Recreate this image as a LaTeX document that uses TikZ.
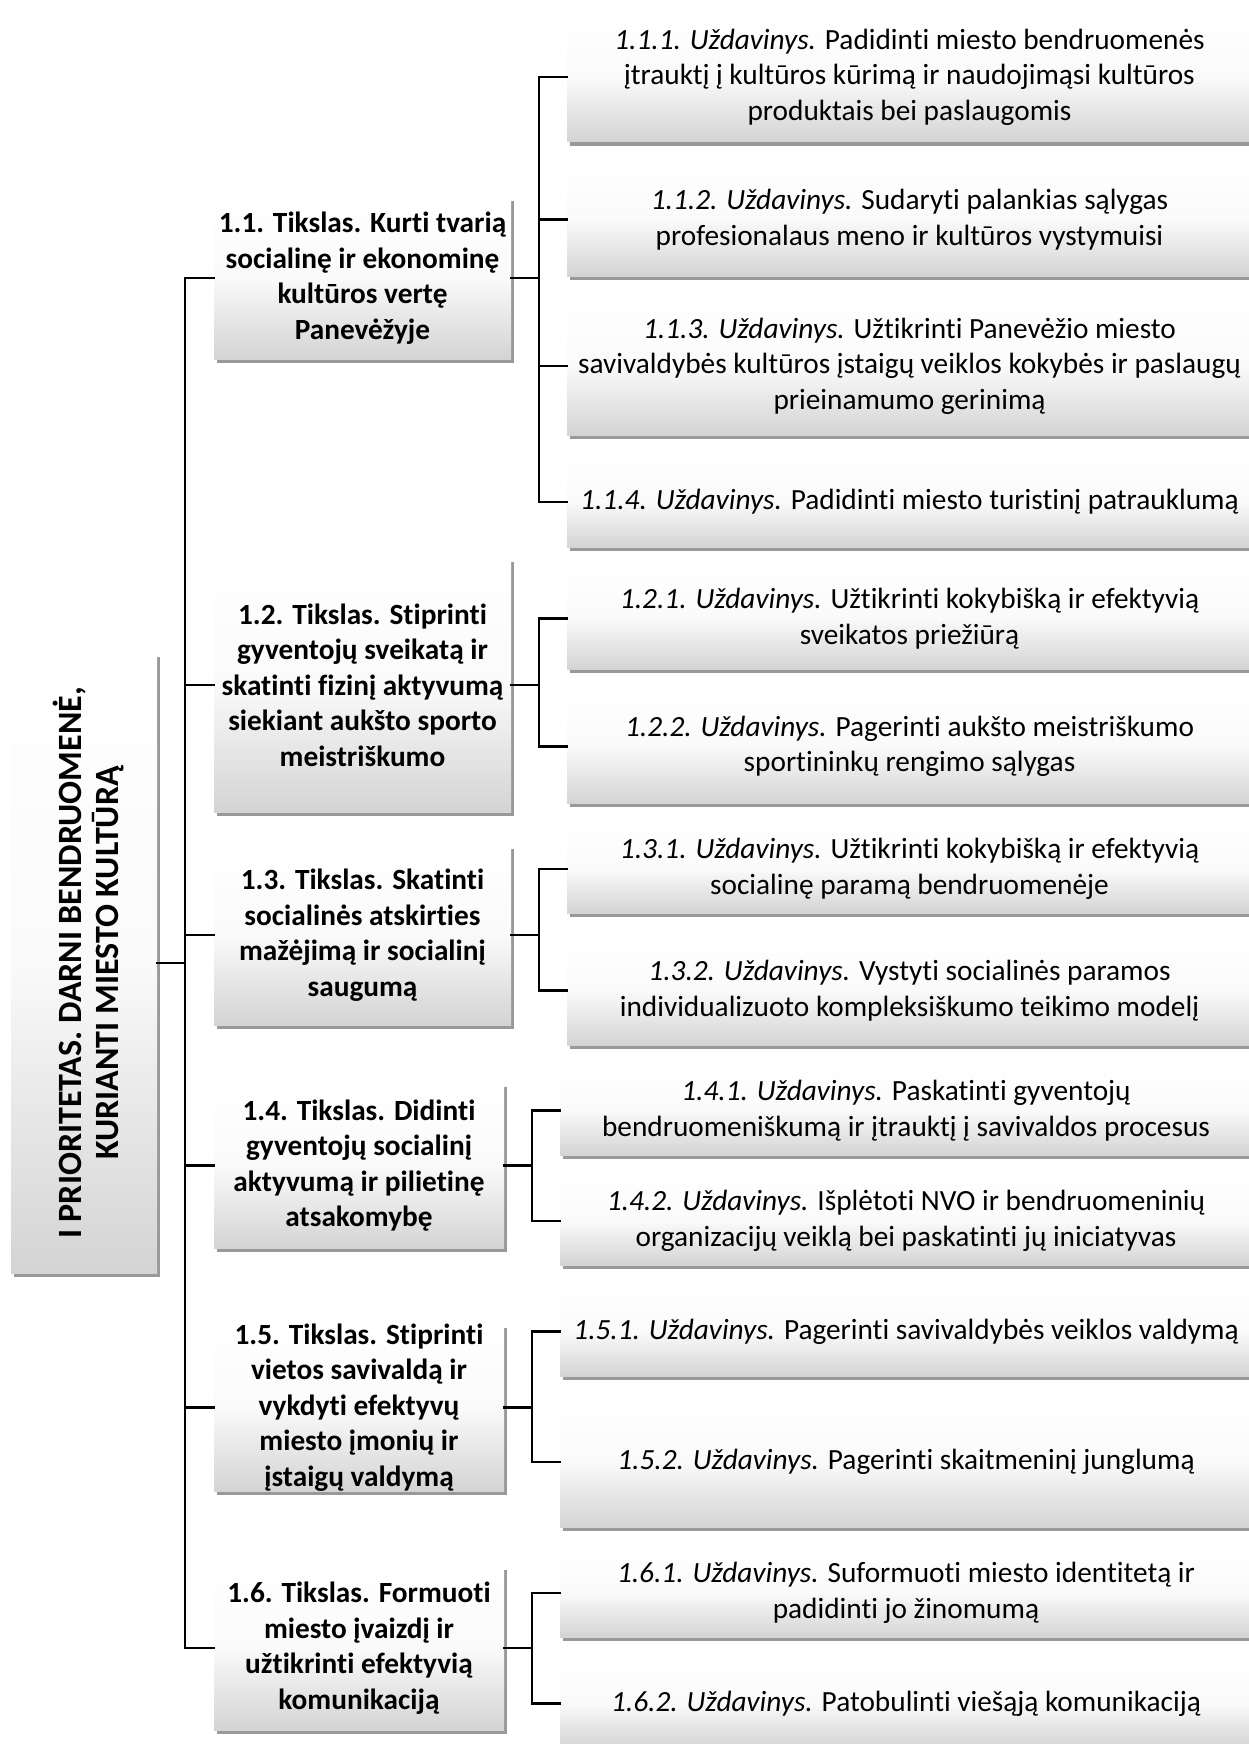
\documentclass[tikz,border=0pt]{standalone}
\usepackage{fontspec}
\setmainfont{Carlito}[Ligatures=NoCommon]
\usetikzlibrary{shadows}
\tikzset{
  boxbase/.style={draw=none, top color=white, bottom color=black!17, middle color=black!2,
    drop shadow={shadow xshift=2.5pt, shadow yshift=-4pt, fill=black, opacity=0.4},
    inner sep=0pt, align=center},
  goal/.style={boxbase, minimum width=297pt, font=\fontsize{29.3}{35.5}\selectfont\bfseries},
  goalb/.style={boxbase, minimum width=290pt, font=\fontsize{29.3}{35.5}\selectfont\bfseries},
  task/.style={boxbase, minimum width=685pt, font=\fontsize{29.3}{35.5}\selectfont},
  taskb/.style={boxbase, minimum width=692pt, font=\fontsize{29.3}{35.5}\selectfont},
  conn/.style={line width=2.2pt, line cap=rect}
}
\begin{document}
\begin{tikzpicture}[x=1pt,y=-1pt]
\fill[white] (0,0) rectangle (1248,1744);
\useasboundingbox (0,0) rectangle (1248,1744);

% root
\node[boxbase, minimum width=146pt, minimum height=620pt, font=\fontsize{34}{37}\selectfont\bfseries] (root) at (84,963)
  {\hspace*{14pt}\rotatebox{90}{\begin{tabular}{@{}c@{}}I PRIORITETAS. DARNI BENDRUOMENĖ,\\ KURIANTI MIESTO KULTŪRĄ\end{tabular}}};

% goals
\node[goal, minimum height=162pt] (g11) at (362.5,278) {1.1. Tikslas. Kurti tvarią\\ socialinę ir ekonominę\\ kultūros vertę\\ Panevėžyje};
\node[goal, minimum height=254pt] (g12) at (362.5,685) {1.2. Tikslas. Stiprinti\\ gyventojų sveikatą ir\\ skatinti fizinį aktyvumą\\ siekiant aukšto sporto\\ meistriškumo};
\node[goal, minimum height=180pt] (g13) at (362.5,935) {1.3. Tikslas. Skatinti\\ socialinės atskirties\\ mažėjimą ir socialinį\\ saugumą};
\node[goalb, minimum height=165pt] (g14) at (359,1165.5) {1.4. Tikslas. Didinti\\ gyventojų socialinį\\ aktyvumą ir pilietinę\\ atsakomybę};
\node[goalb, minimum height=165pt] (g15) at (359,1407.5) {1.5. Tikslas. Stiprinti\\ vietos savivaldą ir\\ vykdyti efektyvų\\ miesto įmonių ir\\ įstaigų valdymą};
\node[goalb, minimum height=164pt] (g16) at (359,1648) {1.6. Tikslas. Formuoti\\ miesto įvaizdį ir\\ užtikrinti efektyvią\\ komunikaciją};

% tasks
\node[task, minimum height=130pt] (t111) at (909.5,77) {\textit{1.1.1. Uždavinys.} Padidinti miesto bendruomenės\\ įtrauktį į kultūros kūrimą ir naudojimąsi kultūros\\ produktais bei paslaugomis};
\node[task, minimum height=113pt] (t112) at (909.5,219.5) {\textit{1.1.2. Uždavinys.} Sudaryti palankias sąlygas\\ profesionalaus meno ir kultūros vystymuisi};
\node[task, minimum height=138pt] (t113) at (909.5,366) {\textit{1.1.3. Uždavinys.} Užtikrinti Panevėžio miesto\\ savivaldybės kultūros įstaigų veiklos kokybės ir paslaugų\\ prieinamumo gerinimą};
\node[task, minimum height=90pt] (t114) at (909.5,502) {\textit{1.1.4. Uždavinys.} Padidinti miesto turistinį patrauklumą};
\node[task, minimum height=101pt] (t121) at (909.5,618.5) {\textit{1.2.1. Uždavinys.} Užtikrinti kokybišką ir efektyvią\\ sveikatos priežiūrą};
\node[task, minimum height=113pt] (t122) at (909.5,746.5) {\textit{1.2.2. Uždavinys.} Pagerinti aukšto meistriškumo\\ sportininkų rengimo sąlygas};
\node[task, minimum height=88pt] (t131) at (909.5,869) {\textit{1.3.1. Uždavinys.} Užtikrinti kokybišką ir efektyvią\\ socialinę paramą bendruomenėje};
\node[task, minimum height=109pt] (t132) at (909.5,990.5) {\textit{1.3.2. Uždavinys.} Vystyti socialinės paramos\\ individualizuoto kompleksiškumo teikimo modelį};
\node[taskb, minimum height=89pt] (t141) at (906,1110.5) {\textit{1.4.1. Uždavinys.} Paskatinti gyventojų\\ bendruomeniškumą ir įtrauktį į savivaldos procesus};
\node[taskb, minimum height=88pt] (t142) at (906,1221) {\textit{1.4.2. Uždavinys.} Išplėtoti NVO ir bendruomeninių\\ organizacijų veiklą bei paskatinti jų iniciatyvas};
\node[taskb, minimum height=89pt] (t151) at (906,1331.5) {\textit{1.5.1. Uždavinys.} Pagerinti savivaldybės veiklos valdymą};
\node[taskb, minimum height=130pt] (t152) at (906,1462) {\textit{1.5.2. Uždavinys.} Pagerinti skaitmeninį junglumą};
\node[taskb, minimum height=88pt] (t161) at (906,1593) {\textit{1.6.1. Uždavinys.} Suformuoti miesto identitetą ir\\ padidinti jo žinomumą};
\node[taskb, minimum height=89pt] (t162) at (906,1703.5) {\textit{1.6.2. Uždavinys.} Patobulinti viešąją komunikaciją};

% connector x positions
\coordinate (tr) at (185,0);
\coordinate (ba) at (539,0);
\coordinate (bb) at (532,0);

\draw[conn] (root.east) -- (root.east -| tr);
\draw[conn] (g11.west -| tr) -- (g16.west -| tr);
\foreach \g in {g11,g12,g13,g14,g15,g16}
  \draw[conn] (\g.west -| tr) -- (\g.west);

% goal 1.1
\draw[conn] (g11.east) -- (g11.east -| ba);
\draw[conn] (t111.west -| ba) -- (t114.west -| ba);
\foreach \t in {t111,t112,t113,t114} \draw[conn] (\t.west -| ba) -- (\t.west);
% goal 1.2
\draw[conn] (g12.east) -- (g12.east -| ba);
\draw[conn] (t121.west -| ba) -- (t122.west -| ba);
\foreach \t in {t121,t122} \draw[conn] (\t.west -| ba) -- (\t.west);
% goal 1.3
\draw[conn] (g13.east) -- (g13.east -| ba);
\draw[conn] (t131.west -| ba) -- (t132.west -| ba);
\foreach \t in {t131,t132} \draw[conn] (\t.west -| ba) -- (\t.west);
% goal 1.4
\draw[conn] (g14.east) -- (g14.east -| bb);
\draw[conn] (t141.west -| bb) -- (t142.west -| bb);
\foreach \t in {t141,t142} \draw[conn] (\t.west -| bb) -- (\t.west);
% goal 1.5
\draw[conn] (g15.east) -- (g15.east -| bb);
\draw[conn] (t151.west -| bb) -- (t152.west -| bb);
\foreach \t in {t151,t152} \draw[conn] (\t.west -| bb) -- (\t.west);
% goal 1.6
\draw[conn] (g16.east) -- (g16.east -| bb);
\draw[conn] (t161.west -| bb) -- (t162.west -| bb);
\foreach \t in {t161,t162} \draw[conn] (\t.west -| bb) -- (\t.west);
\end{tikzpicture}
\end{document}
